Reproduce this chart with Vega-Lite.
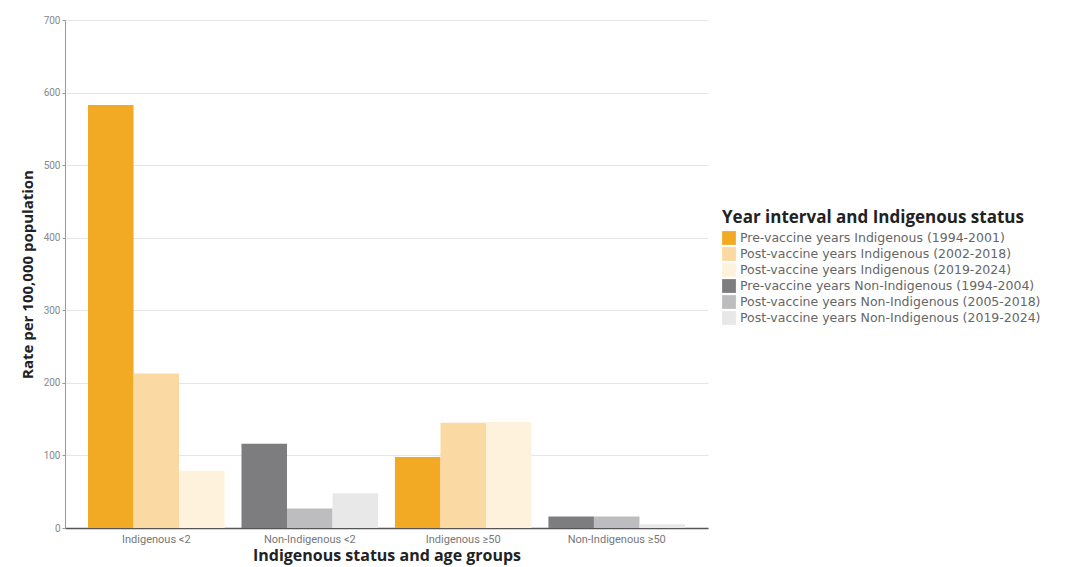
{
  "$schema": "https://vega.github.io/schema/vega-lite/v6.json",
  "autosize": "none",
  "padding": {"left": 65, "top": 20, "right": 368, "bottom": 39},
  "width": 643,
  "height": 508,
  "background": "white",
  "data": {
    "values": [
      {"group": "Indigenous <2", "slot": 1, "series": "Pre-vaccine years Indigenous (1994-2001)", "rate": 583},
      {"group": "Indigenous <2", "slot": 2, "series": "Post-vaccine years Indigenous (2002-2018)", "rate": 213},
      {"group": "Indigenous <2", "slot": 3, "series": "Post-vaccine years Indigenous (2019-2024)", "rate": 79},
      {"group": "Non-Indigenous <2", "slot": 1, "series": "Pre-vaccine years Non-Indigenous (1994-2004)", "rate": 116},
      {"group": "Non-Indigenous <2", "slot": 2, "series": "Post-vaccine years Non-Indigenous (2005-2018)", "rate": 27},
      {"group": "Non-Indigenous <2", "slot": 3, "series": "Post-vaccine years Non-Indigenous (2019-2024)", "rate": 48},
      {"group": "Indigenous ≥50", "slot": 1, "series": "Pre-vaccine years Indigenous (1994-2001)", "rate": 98},
      {"group": "Indigenous ≥50", "slot": 2, "series": "Post-vaccine years Indigenous (2002-2018)", "rate": 145},
      {"group": "Indigenous ≥50", "slot": 3, "series": "Post-vaccine years Indigenous (2019-2024)", "rate": 146},
      {"group": "Non-Indigenous ≥50", "slot": 1, "series": "Pre-vaccine years Non-Indigenous (1994-2004)", "rate": 16},
      {"group": "Non-Indigenous ≥50", "slot": 2, "series": "Post-vaccine years Non-Indigenous (2005-2018)", "rate": 16},
      {"group": "Non-Indigenous ≥50", "slot": 3, "series": "Post-vaccine years Non-Indigenous (2019-2024)", "rate": 5}
    ]
  },
  "mark": {"type": "bar"},
  "encoding": {
    "x": {
      "field": "group",
      "type": "nominal",
      "sort": ["Indigenous <2", "Non-Indigenous <2", "Indigenous ≥50", "Non-Indigenous ≥50"],
      "scale": {"paddingInner": 0.11, "paddingOuter": 0.15},
      "axis": {
        "title": "Indigenous status and age groups",
        "titleFont": "Open Sans",
        "titleFontSize": 16,
        "titleFontWeight": "bold",
        "titleColor": "#222222",
        "titlePadding": 3,
        "labelAngle": 0,
        "labelFont": "Roboto",
        "labelFontSize": 11,
        "labelColor": "#777777",
        "labelPadding": 5,
        "ticks": false,
        "domainColor": "#555555",
        "domainWidth": 1.5
      }
    },
    "xOffset": {
      "field": "slot",
      "type": "ordinal",
      "scale": {"paddingInner": 0, "paddingOuter": 0}
    },
    "y": {
      "field": "rate",
      "type": "quantitative",
      "scale": {"domain": [0, 700]},
      "axis": {
        "title": "Rate per 100,000 population",
        "titleFont": "Open Sans",
        "titleFontSize": 15,
        "titleFontWeight": "bold",
        "titleColor": "#222222",
        "titlePadding": 8,
        "values": [0, 100, 200, 300, 400, 500, 600, 700],
        "labelFont": "Roboto",
        "labelFontSize": 10,
        "labelColor": "#888888",
        "tickSize": 3,
        "tickColor": "#999999",
        "domainColor": "#999999",
        "gridColor": "#e6e6e6",
        "grid": true
      }
    },
    "color": {
      "field": "series",
      "type": "nominal",
      "scale": {
        "domain": [
          "Pre-vaccine years Indigenous (1994-2001)",
          "Post-vaccine years Indigenous (2002-2018)",
          "Post-vaccine years Indigenous (2019-2024)",
          "Pre-vaccine years Non-Indigenous (1994-2004)",
          "Post-vaccine years Non-Indigenous (2005-2018)",
          "Post-vaccine years Non-Indigenous (2019-2024)"
        ],
        "range": ["#F2AA24", "#FBD9A2", "#FEF2DC", "#7D7D80", "#BDBDBF", "#E8E8E8"]
      },
      "legend": {
        "title": "Year interval and Indigenous status",
        "titleFont": "Open Sans",
        "titleFontSize": 17,
        "titleFontWeight": "bold",
        "titleColor": "#222222",
        "titleLimit": 500,
        "titlePadding": 4,
        "labelFont": "DejaVu Sans",
        "labelFontSize": 12.5,
        "labelColor": "#666666",
        "symbolType": "square",
        "symbolSize": 190,
        "symbolStrokeWidth": 0,
        "rowPadding": 2,
        "labelOffset": 4,
        "labelLimit": 400,
        "orient": "none",
        "legendX": 657,
        "legendY": 190
      }
    }
  },
  "config": {"view": {"stroke": null}}
}
